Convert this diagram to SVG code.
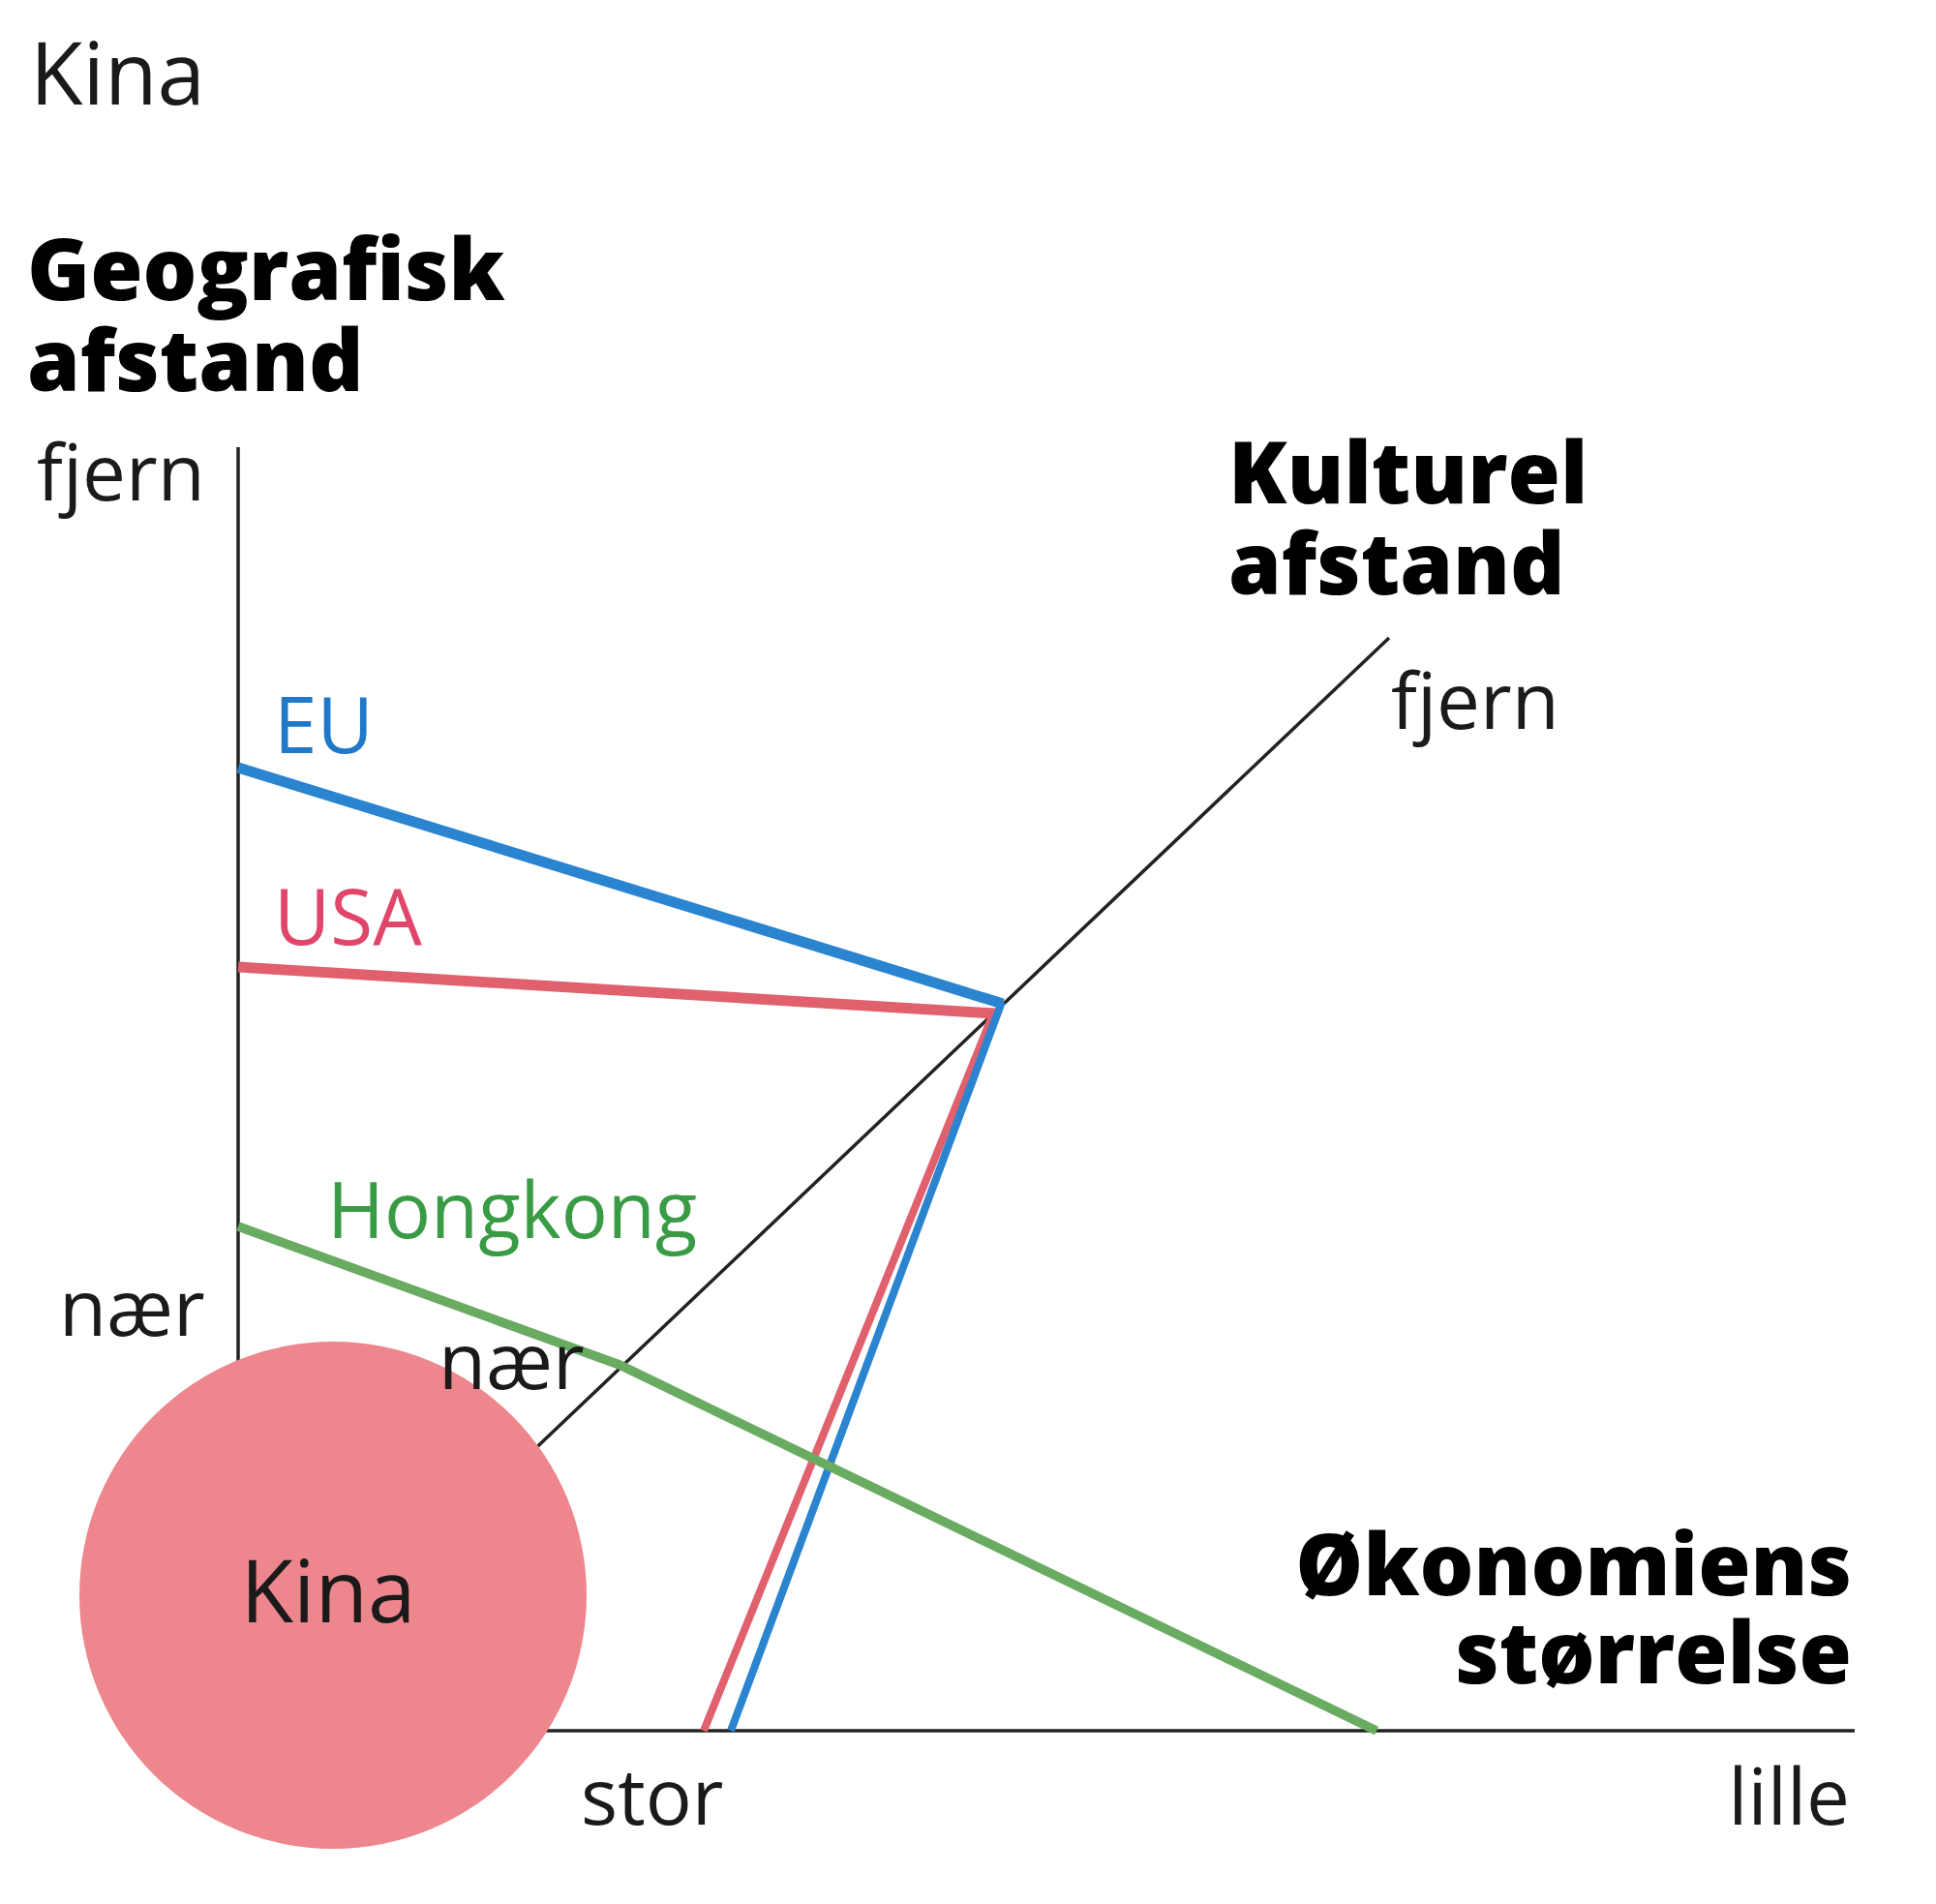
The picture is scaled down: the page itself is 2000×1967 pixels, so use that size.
<svg xmlns="http://www.w3.org/2000/svg" width="2000" height="1967" viewBox="0 0 2000 1967">
<style>
.lbl{font-family:"Open Sans","Noto Sans",sans-serif;font-size:80px;fill:#1a1a1a}
.big{font-size:89px}
.hd{font-family:"Open Sans","Noto Sans",sans-serif;font-size:88px;font-weight:800;fill:#000}
.axis{stroke:#222;stroke-width:3.5;fill:none}
.up{fill:none;stroke-width:11;stroke-linecap:butt}
.dn{fill:none;stroke-width:8;stroke-linecap:butt}
</style>
<rect width="2000" height="1967" fill="#fff"/>
<text class="lbl big" x="31" y="108">Kina</text>
<g id="heading-geo"><text class="hd" x="28" y="310">Geografisk</text><text class="hd" x="28" y="404">afstand</text></g>
<g id="heading-kult"><text class="hd" x="1269" y="520">Kulturel</text><text class="hd" x="1269" y="614">afstand</text></g>
<g id="heading-oek"><text class="hd" x="1913" y="1648" text-anchor="end">Økonomiens</text><text class="hd" x="1913" y="1739" text-anchor="end">størrelse</text></g>
<g id="axes">
<line class="axis" x1="246" y1="462" x2="246" y2="1788"/>
<line class="axis" x1="246" y1="1788" x2="1916" y2="1788"/>
<line class="axis" x1="246" y1="1788" x2="1435" y2="659"/>
</g>
<g id="connectors">
<line class="up" stroke="#e0606e" x1="246" y1="999" x2="1028" y2="1047"/>
<line class="dn" stroke="#e0606e" x1="1027" y1="1045" x2="727" y2="1788"/>
<line class="up" stroke="#2a84cf" x1="246" y1="793" x2="1036" y2="1037"/>
<line class="dn" stroke="#2a84cf" x1="1035" y1="1035" x2="755" y2="1788"/>
<polyline class="up" stroke="#6aab62" stroke-width="9.5" style="stroke-width:9.5" points="246,1267 640,1410 1422,1788"/>
</g>
<g id="axis-labels">
<text class="lbl" x="38" y="517">fjern</text>
<text class="lbl" x="61" y="1380">nær</text>
<text class="lbl" x="1437" y="753">fjern</text>
<text class="lbl" x="600" y="1885">stor</text>
<text class="lbl" x="1911" y="1885" text-anchor="end">lille</text>
</g>
<g id="node-eu"><text class="lbl" x="283" y="778" style="fill:#1f78c8">EU</text></g>
<g id="node-usa"><text class="lbl" x="283" y="976" style="fill:#e0456a">USA</text></g>
<g id="node-hongkong"><text class="lbl" x="338" y="1279" style="fill:#3a9b45">Hongkong</text></g>
<g id="node-kina">
<circle cx="344" cy="1648" r="262" fill="#ee868d"/>
<text class="lbl big" x="339" y="1676" text-anchor="middle">Kina</text>
</g>
<text class="lbl" x="453" y="1435">nær</text>
</svg>
